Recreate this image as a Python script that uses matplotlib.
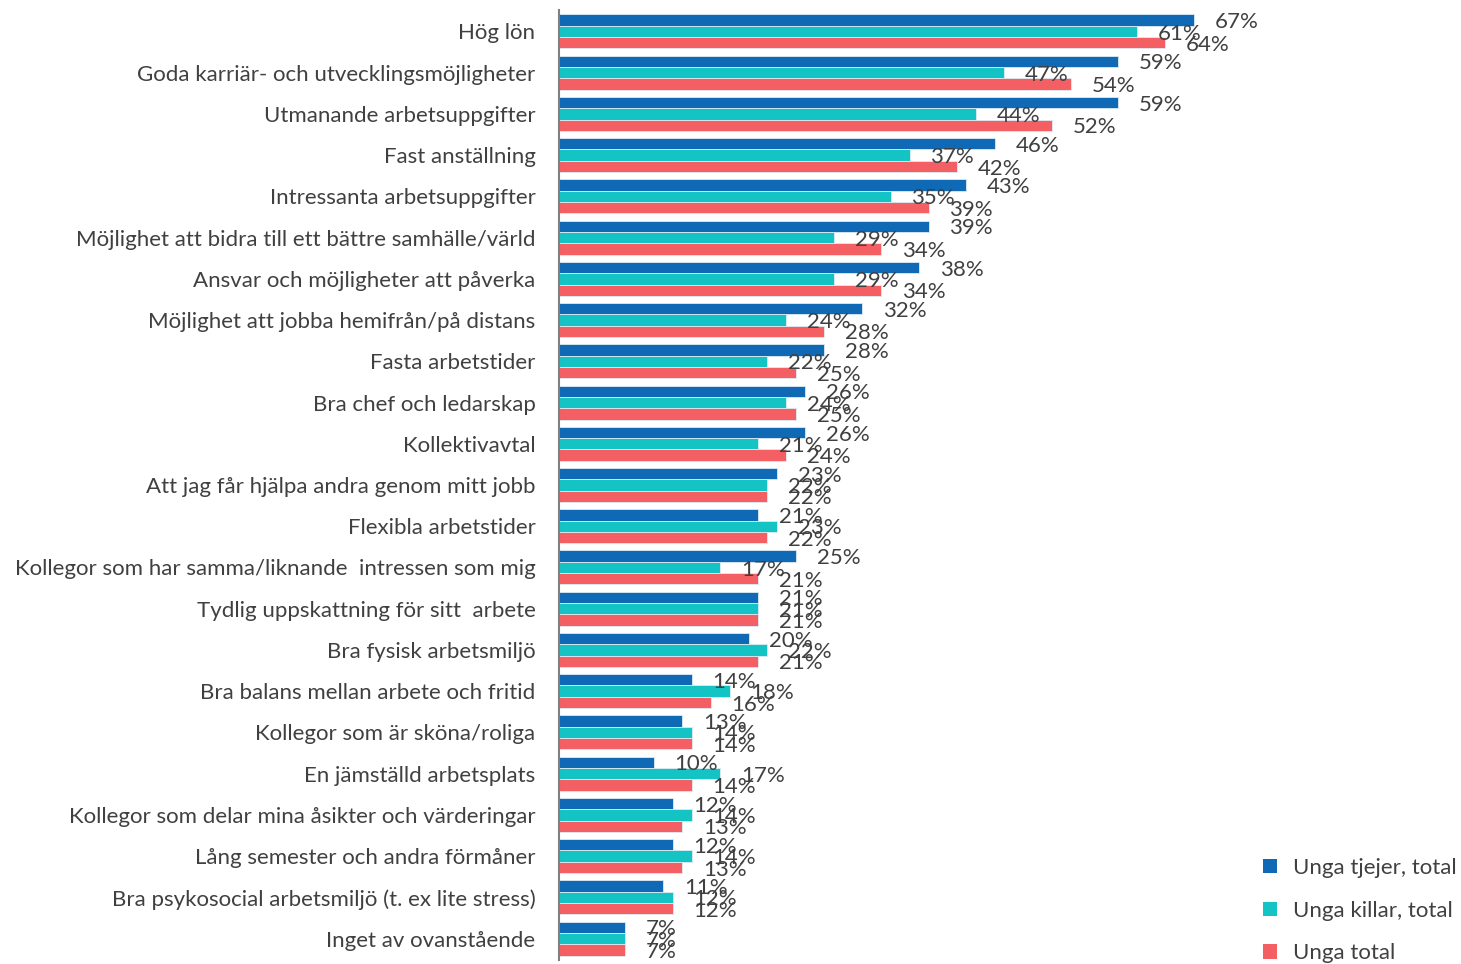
import matplotlib
matplotlib.use("Agg")
import matplotlib.pyplot as plt
from matplotlib.patches import Patch
import numpy as np

categories = [
    "Hög lön",
    "Goda karriär- och utvecklingsmöjligheter",
    "Utmanande arbetsuppgifter",
    "Fast anställning",
    "Intressanta arbetsuppgifter",
    "Möjlighet att bidra till ett bättre samhälle/värld",
    "Ansvar och möjligheter att påverka",
    "Möjlighet att jobba hemifrån/på distans",
    "Fasta arbetstider",
    "Bra chef och ledarskap",
    "Kollektivavtal",
    "Att jag får hjälpa andra genom mitt jobb",
    "Flexibla arbetstider",
    "Kollegor som har samma/liknande  intressen som mig",
    "Tydlig uppskattning för sitt  arbete",
    "Bra fysisk arbetsmiljö",
    "Bra balans mellan arbete och fritid",
    "Kollegor som är sköna/roliga",
    "En jämställd arbetsplats",
    "Kollegor som delar mina åsikter och värderingar",
    "Lång semester och andra förmåner",
    "Bra psykosocial arbetsmiljö (t. ex lite stress)",
    "Inget av ovanstående",
]
tjejer = [67, 59, 59, 46, 43, 39, 38, 32, 28, 26, 26, 23, 21, 25, 21, 20, 14, 13, 10, 12, 12, 11, 7]
killar = [61, 47, 44, 37, 35, 29, 29, 24, 22, 24, 21, 22, 23, 17, 21, 22, 18, 14, 17, 14, 14, 12, 7]
total = [64, 54, 52, 42, 39, 34, 34, 28, 25, 25, 24, 22, 22, 21, 21, 21, 16, 14, 14, 13, 13, 12, 7]
series_names = ["Unga tjejer, total", "Unga killar, total", "Unga total"]

colors = ["#0F69B4", "#14C3C3", "#F45F63"]
txt_color = "#404040"
FONT = "Lato"
FS = 16

W, H = 1461, 964
fig = plt.figure(figsize=(W / 100, H / 100), dpi=100)
ax_left, ax_right = 559 / W, 1317 / W
ax_top, ax_bottom = 1 - 10 / H, 1 - 960 / H
ax = fig.add_axes([ax_left, ax_bottom, ax_right - ax_left, ax_top - ax_bottom])

y = np.arange(len(categories))
bh = 0.275
for k, (vals, col) in enumerate(zip([tjejer, killar, total], colors)):
    pos = y + (k - 1) * bh
    ax.barh(pos, vals, height=bh, color=col, edgecolor="#DDEBF5", linewidth=0.6)
    for p, v in zip(pos, vals):
        ax.annotate(f"{v}%", xy=(v, p), xytext=(15, -1.5), textcoords="offset points",
                    ha="left", va="center", fontsize=FS, color=txt_color, family=FONT)

ax.set_xlim(0, 80)
ax.set_ylim(len(categories) - 1 + 0.52, -0.52)
ax.set_yticks(y)
ax.set_yticklabels(categories, fontsize=FS, color=txt_color, family=FONT)
ax.tick_params(axis="y", length=0, pad=17)
ax.set_xticks([])
for s in ["top", "right", "bottom"]:
    ax.spines[s].set_visible(False)
ax.spines["left"].set_color("#808080")
ax.spines["left"].set_linewidth(1.5)

handles = [Patch(facecolor=c, edgecolor="none") for c in colors]
fig.legend(handles, series_names, loc="upper left", bbox_to_anchor=(1243 / W, 1 - 838 / H),
           frameon=False, handlelength=0.62, handleheight=0.62, handletextpad=0.75,
           labelspacing=1.02, prop={"family": FONT, "size": FS}, labelcolor=txt_color)

fig.savefig("out.png", dpi=100)
